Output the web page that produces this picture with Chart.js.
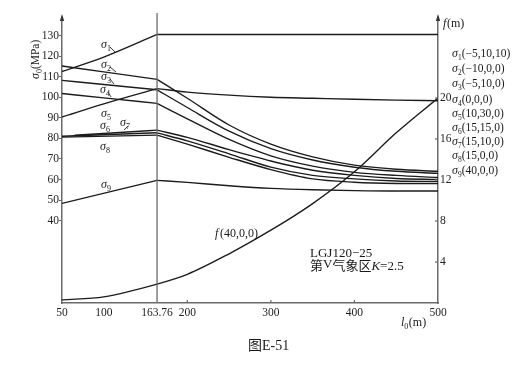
<!DOCTYPE html>
<html><head><meta charset="utf-8">
<script src="https://cdn.jsdelivr.net/npm/chart.js@4.4.1/dist/chart.umd.min.js"></script>
<style>html,body{margin:0;padding:0;background:#fff;}#wrap{width:516px;height:372px;}</style>
</head><body><div id="wrap"><canvas id="c" width="516" height="372"></canvas></div>
<script>
// ---- data ----
const criticalSpan = 163.76;
const spansLeft = [50, 100, 163.76];
const spansShort = [50, 163.76];
const spansSigma6 = [65, 163.76];
const spansRight = [163.76, 200, 250, 300, 350, 400, 450, 500];
const spansSag = [50, 100, 163.76, 200, 250, 300, 350, 400, 450, 500];

const sigma1L = [112.5, 119.5, 130.5];
const sigma1R = [130.5, 130.5, 130.5, 130.5, 130.5, 130.5, 130.5, 130.5];
const sigma2L = [115.2, 112.3, 108.7];
const sigma2R = [108.7, 99.5, 86.5, 77.2, 71, 67, 65, 64];
const sigma3L = [108.2, 106.2, 103.6];
const sigma3R = [103.6, 95, 83.5, 75, 69.5, 66, 64, 63];
const sigma4L = [101.8, 99.7, 97];
const sigma4R = [97, 89.5, 79.5, 71.5, 66.5, 63.5, 62, 61];
const sigma5L = [90.4, 96.8, 104.2];
const sigma5R = [104.2, 102.5, 101, 100, 99.5, 99, 98.6, 98.3];
const sigma6L = [81.5, 84];
const sigma6R = [84, 80.5, 74.5, 69, 64.5, 62, 60.5, 60];
const sigma7L = [81.0, 82.7];
const sigma7R = [82.7, 78.8, 72.5, 66, 62, 60.3, 59.3, 59];
const sigma8L = [80.6, 81.6];
const sigma8R = [81.6, 77.2, 70.8, 64.8, 60.3, 58.7, 58.1, 58];
const sigma9L = [48.4, 59.6];
const sigma9R = [59.6, 58.6, 57, 55.7, 55, 54.6, 54.4, 54.4];
const sag40 = [0.3, 0.6, 1.85, 2.8, 4.8, 7.1, 9.7, 12.8, 16.6, 20.0];

const xTicks = [50, 100, 163.76, 200, 300, 400, 500];
const xTickLabels = ['50', '100', '163.76', '200', '300', '400', '500'];
const yTicks = [40, 50, 60, 70, 80, 90, 100, 110, 120, 130];
const fTicks = [4, 8, 12, 16, 20];
const legendSubs = ['1', '2', '3', '4', '5', '6', '7', '8', '9'];
const legendConds = ['(−5,10,10)', '(−10,0,0)', '(−5,10,0)', '(0,0,0)', '(10,30,0)', '(15,15,0)', '(15,10,0)', '(15,0,0)', '(40,0,0)'];

// ---- styling ----
const lineColor = '#1c1c1c';
const axisColor = '#6a6a6a';
const serif = "'Liberation Serif', 'DejaVu Serif', serif";
const tickFont = { family: serif, size: 11.5 };

function mk(xs, ys, axis) {
  return {
    data: xs.map((x, i) => ({ x: x, y: ys[i] })),
    yAxisID: axis || 'y',
    borderColor: lineColor, borderWidth: 1.4,
    pointRadius: 0, fill: false,
    cubicInterpolationMode: 'monotone'
  };
}

const datasets = [
  mk(spansLeft, sigma1L), mk(spansRight, sigma1R),
  mk(spansLeft, sigma2L), mk(spansRight, sigma2R),
  mk(spansLeft, sigma3L), mk(spansRight, sigma3R),
  mk(spansLeft, sigma4L), mk(spansRight, sigma4R),
  mk(spansLeft, sigma5L), mk(spansRight, sigma5R),
  mk(spansSigma6, sigma6L), mk(spansRight, sigma6R),
  mk(spansShort, sigma7L), mk(spansRight, sigma7R),
  mk(spansShort, sigma8L), mk(spansRight, sigma8R),
  mk(spansShort, sigma9L), mk(spansRight, sigma9R),
  mk(spansSag, sag40, 'y2')
];

function drawSig(ctx, x, y, sub, rest, size, subSize, restSize) {
  ctx.textBaseline = 'alphabetic';
  ctx.textAlign = 'left';
  ctx.font = 'italic ' + size + 'px ' + serif;
  ctx.fillText('σ', x, y);
  let cx = x + ctx.measureText('σ').width;
  ctx.font = subSize + 'px ' + serif;
  ctx.fillText(sub, cx, y + 3);
  cx += ctx.measureText(sub).width;
  if (rest) {
    ctx.font = restSize + 'px ' + serif;
    ctx.fillText(rest, cx, y);
  }
}

const deco = {
  id: 'deco',
  afterDraw(chart) {
    const ctx = chart.ctx, a = chart.chartArea;
    const sx = chart.scales.x, sy2 = chart.scales.y2;
    ctx.save();
    // critical span vertical line
    const xc = sx.getPixelForValue(criticalSpan);
    ctx.strokeStyle = axisColor; ctx.lineWidth = 1.3;
    ctx.beginPath(); ctx.moveTo(xc, 13); ctx.lineTo(xc, a.bottom); ctx.stroke();
    // axis arrows
    ctx.fillStyle = '#333';
    [a.left, a.right].forEach(px => {
      ctx.beginPath(); ctx.moveTo(px, a.top - 4); ctx.lineTo(px - 2.2, a.top + 3); ctx.lineTo(px + 2.2, a.top + 3); ctx.closePath(); ctx.fill();
    });
    // inside ticks: bottom & right
    ctx.strokeStyle = axisColor; ctx.lineWidth = 1.2;
    [200, 300, 400].forEach(v => {
      const px = sx.getPixelForValue(v);
      ctx.beginPath(); ctx.moveTo(px, a.bottom); ctx.lineTo(px, a.bottom - 3); ctx.stroke();
    });
    fTicks.forEach(v => {
      const py = sy2.getPixelForValue(v);
      ctx.beginPath(); ctx.moveTo(a.right, py); ctx.lineTo(a.right - 3, py); ctx.stroke();
    });
    ctx.fillStyle = '#1a1a1a';
    // curve labels
    const lab = [[101, 48, '1'], [101, 68, '2'], [101, 80, '3'], [100, 93, '4'], [101, 117, '5'], [100, 129, '6'], [120, 126, '7'], [100, 150, '8'], [101, 188, '9']];
    lab.forEach(l => drawSig(ctx, l[0], l[1], l[2], '', 12, 8, 12));
    // leaders
    ctx.strokeStyle = '#222'; ctx.lineWidth = 0.9;
    [[[110, 47], [115, 52]], [[110, 67], [116, 72]], [[110, 79], [114, 84]], [[108, 92], [111, 97]], [[128, 126], [124, 130]]].forEach(s => {
      ctx.beginPath(); ctx.moveTo(s[0][0], s[0][1]); ctx.lineTo(s[1][0], s[1][1]); ctx.stroke();
    });
    // right legend
    const ly = [57, 72, 86.5, 103, 117, 131, 144.5, 159, 174];
    legendSubs.forEach((s, i) => drawSig(ctx, 452, ly[i], s, legendConds[i], 12, 7.5, 11.5));
    // sag label
    ctx.font = 'italic 12px ' + serif; ctx.textBaseline = 'alphabetic';
    ctx.fillText('f', 215, 237);
    ctx.font = '12px ' + serif;
    ctx.fillText('(40,0,0)', 220, 237);
    // annotation
    ctx.font = '13px ' + serif;
    ctx.fillText('LGJ120−25', 310, 257);
    let ax = 310;
    ctx.font = "13px 'Noto Sans CJK SC'"; ctx.fillText('第', ax, 270); ax += ctx.measureText('第').width;
    ctx.font = '13px ' + serif; ctx.fillText('V', ax, 268); ax += ctx.measureText('V').width;
    ctx.font = "13px 'Noto Sans CJK SC'"; ctx.fillText('气象区', ax, 270); ax += ctx.measureText('气象区').width;
    ctx.font = 'italic 13px ' + serif; ctx.fillText('K', ax, 270); ax += ctx.measureText('K').width;
    ctx.font = '13px ' + serif; ctx.fillText('=2.5', ax, 270);
    // right axis title f(m)
    ctx.font = 'italic 12px ' + serif; ctx.fillText('f', 443, 27);
    ctx.font = '12px ' + serif; ctx.fillText('(m)', 447, 27);
    // x axis title l0(m)
    let tx = 401;
    ctx.font = 'italic 12px ' + serif; ctx.fillText('l', tx, 326); tx += ctx.measureText('l').width;
    ctx.font = '8px ' + serif; ctx.fillText('0', tx, 329); tx += ctx.measureText('0').width;
    ctx.font = '12px ' + serif; ctx.fillText('(m)', tx + 0.5, 326);
    // y axis title σ0(MPa)
    ctx.save();
    ctx.translate(38.5, 79); ctx.rotate(-Math.PI / 2);
    drawSig(ctx, 0, 0, '0', '(MPa)', 12, 8, 11.5);
    ctx.restore();
    // caption
    let cx = 248;
    ctx.font = "14px 'Noto Sans CJK SC'"; ctx.fillText('图', cx, 350); cx += ctx.measureText('图').width;
    ctx.font = '14px ' + serif; ctx.fillText('E-51', cx, 350);
    ctx.restore();
  }
};

new Chart(document.getElementById('c'), {
  type: 'line',
  data: { datasets: datasets },
  plugins: [deco],
  options: {
    responsive: false, animation: false,
    layout: { padding: { top: 18, left: 0, right: 0, bottom: 0 } },
    plugins: { legend: { display: false }, tooltip: { enabled: false } },
    scales: {
      x: {
        type: 'linear', min: 50, max: 500, position: 'bottom',
        afterBuildTicks: s => { s.ticks = xTicks.map(v => ({ value: v })); },
        afterFit: s => { s.height = 69; },
        ticks: { autoSkip: false, maxRotation: 0, minRotation: 0, padding: 3, font: tickFont, color: '#222',
          callback: (v, i) => xTickLabels[i] },
        grid: { display: false, drawTicks: false },
        border: { display: true, color: axisColor, width: 1.5 }
      },
      y: {
        type: 'linear', min: 0, max: 138.5, position: 'left',
        afterBuildTicks: s => { s.ticks = yTicks.map(v => ({ value: v })); },
        afterFit: s => { s.width = 62; },
        ticks: { padding: 0, font: tickFont, color: '#222' },
        grid: { display: true, drawOnChartArea: false, drawTicks: true, tickLength: 3, color: axisColor },
        border: { display: true, color: axisColor, width: 1.5 }
      },
      y2: {
        type: 'linear', min: 0, max: 27.8, position: 'right',
        afterBuildTicks: s => { s.ticks = fTicks.map(v => ({ value: v })); },
        afterFit: s => { s.width = 78; },
        ticks: { padding: 2, font: tickFont, color: '#222' },
        grid: { display: false, drawTicks: false },
        border: { display: true, color: axisColor, width: 1.5 }
      }
    }
  }
});
</script>
</body></html>
